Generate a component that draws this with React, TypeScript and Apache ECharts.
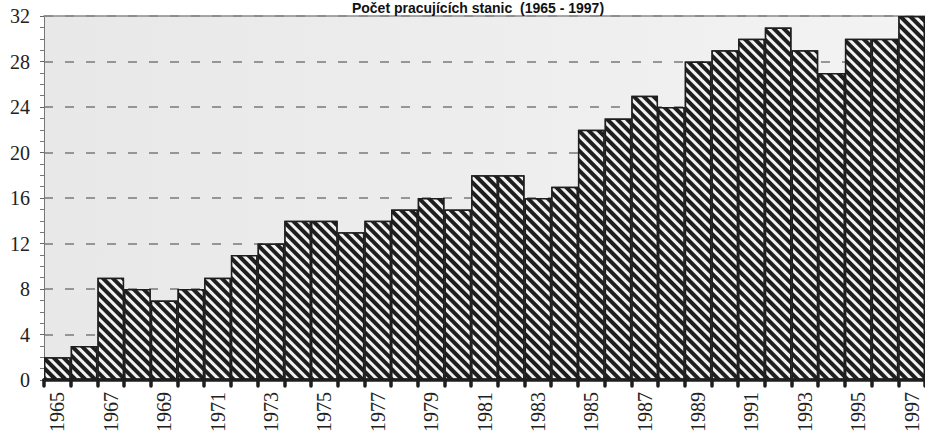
import React, { useEffect, useRef } from "react";
import * as echarts from "echarts";

const years = [
  "1965", "1966", "1967", "1968", "1969", "1970", "1971", "1972", "1973", "1974", "1975",
  "1976", "1977", "1978", "1979", "1980", "1981", "1982", "1983", "1984", "1985", "1986",
  "1987", "1988", "1989", "1990", "1991", "1992", "1993", "1994", "1995", "1996", "1997",
];
const stations = [
  2, 3, 9, 8, 7, 8, 9, 11, 12, 14, 14,
  13, 14, 15, 16, 15, 18, 18, 16, 17, 22, 23,
  25, 24, 28, 29, 30, 31, 29, 27, 30, 30, 32,
];
const yTickValues = [0, 4, 8, 12, 16, 20, 24, 28, 32];
const titleText = "Počet pracujících stanic  (1965 - 1997)";
const yMin = 0;
const yMax = 32;
const yStep = 4;

const labelFont = "20px 'Liberation Serif', 'Times New Roman', serif";
const labelColor = "#222222";

export default function App() {
  const ref = useRef<HTMLDivElement>(null);
  useEffect(() => {
    if (!ref.current) return;
    const chart = echarts.init(ref.current, undefined, { renderer: "svg" });
    chart.setOption({
      animation: false,
      backgroundColor: "#ffffff",
      grid: {
        left: 44,
        right: 0,
        top: 16,
        bottom: 66,
        show: true,
        borderWidth: 0,
        backgroundColor: {
          type: "linear",
          x: 0,
          y: 0,
          x2: 1,
          y2: 0,
          colorStops: [
            { offset: 0, color: "#e8e8e8" },
            { offset: 1, color: "#f3f3f3" },
          ],
        },
      },
      xAxis: [
        {
          type: "category",
          data: years,
          boundaryGap: true,
          axisLine: { show: true, lineStyle: { color: "#1e1e1e", width: 3.5 } },
          axisTick: {
            show: true,
            interval: 0,
            length: 6,
            lineStyle: { color: "#1e1e1e", width: 3.5, cap: "round" },
          },
          axisLabel: { show: false },
          splitLine: { show: false },
          z: 5,
        },
        {
          type: "category",
          data: years,
          position: "top",
          axisLine: { show: true, lineStyle: { color: "#8a8a8a", width: 1.5 } },
          axisTick: { show: false },
          axisLabel: { show: false },
          splitLine: { show: false },
        },
      ],
      yAxis: {
        type: "value",
        min: yMin,
        max: yMax,
        interval: yStep,
        axisLine: { show: true, lineStyle: { color: "#777777", width: 1 } },
        axisTick: { show: true, length: 4, lineStyle: { color: "#666666" } },
        minorTick: { show: true, splitNumber: 4, length: 4, lineStyle: { color: "#777777" } },
        axisLabel: { show: false },
        splitLine: {
          show: true,
          lineStyle: { color: "#7a7a7a", width: 1.5, type: [9, 12] },
        },
      },
      series: [
        {
          type: "bar",
          data: stations,
          barCategoryGap: "0%",
          itemStyle: {
            color: "#1e1e1e",
            borderColor: "#1e1e1e",
            borderWidth: 1.5,
            decal: {
              symbol: "rect",
              symbolSize: 1,
              symbolKeepAspect: false,
              color: "#f2f2f2",
              backgroundColor: null,
              dashArrayX: [10, 0],
              dashArrayY: [2.5, 4],
              rotation: Math.PI / 4,
            },
          },
          z: 3,
        },
      ],
    });

    // Axis labels placed through the library's own scales (convertToPixel)
    const y0 = chart.convertToPixel({ yAxisIndex: 0 }, 0) as number;
    const x0 = chart.convertToPixel({ xAxisIndex: 0 }, years[0]) as number;
    const halfBand =
      ((chart.convertToPixel({ xAxisIndex: 0 }, years[1]) as number) - x0) / 2;
    const axisX = x0 - halfBand;

    const xLabels = years
      .filter((_, i) => i % 2 === 0)
      .map((yr) => ({
        type: "text",
        x: chart.convertToPixel({ xAxisIndex: 0 }, yr) as number,
        y: y0 + 12,
        rotation: Math.PI / 2,
        style: {
          text: yr,
          font: labelFont,
          fill: labelColor,
          align: "right",
          verticalAlign: "middle",
        },
        z: 10,
      }));
    const yLabels = yTickValues.map((v) => ({
      type: "text",
      x: axisX - 14,
      y: chart.convertToPixel({ yAxisIndex: 0 }, v) as number,
      style: {
        text: String(v),
        font: labelFont,
        fill: labelColor,
        align: "right",
        verticalAlign: "middle",
      },
      z: 10,
    }));

    chart.setOption({
      graphic: [
        {
          type: "text",
          x: 478,
          y: 1,
          style: {
            text: titleText,
            font: "bold 14px 'Liberation Sans', Arial, sans-serif",
            fill: "#111111",
            align: "center",
            verticalAlign: "top",
          },
          z: 10,
        },
        ...xLabels,
        ...yLabels,
      ],
    });
    return () => chart.dispose();
  }, []);
  return (
    <div
      ref={ref}
      style={{ position: "fixed", left: 0, top: 0, width: 925, height: 446 }}
    />
  );
}
